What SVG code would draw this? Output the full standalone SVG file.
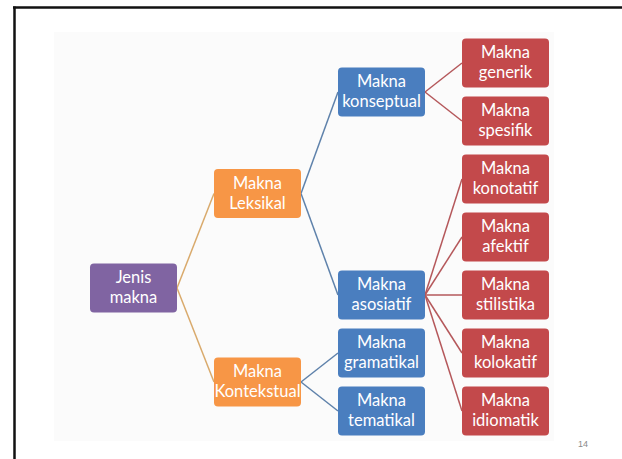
<svg xmlns="http://www.w3.org/2000/svg" width="622" height="459" viewBox="0 0 622 459">
  <style>
    .box { stroke: none; }
    .purple { fill: #8064A2; }
    .orange { fill: #F79646; }
    .blue { fill: #4A7EBF; }
    .red { fill: #C3494B; }
    .lbl { font-family: Lato, "Open Sans", "Liberation Sans", sans-serif; font-size: 16.5px; fill: #ffffff; text-anchor: middle; }
    .c-or { stroke: #D9AA6C; stroke-width: 1.5; fill: none; }
    .c-bl { stroke: #5F82AB; stroke-width: 1.5; fill: none; }
    .c-rd { stroke: #B5585B; stroke-width: 1.5; fill: none; }
    .pg { font-family: "Liberation Sans", sans-serif; font-size: 9px; fill: #8a8a8a; text-anchor: middle; }
  </style>
  <rect x="0" y="0" width="622" height="459" fill="#ffffff"/>
  <rect x="54" y="32" width="500" height="409" fill="#fbfbfb"/>
  <g id="frame" stroke="#111111" stroke-width="2.5" fill="none">
    <line x1="13" y1="7.5" x2="622" y2="7.5"/>
    <line x1="14.5" y1="6.5" x2="14.5" y2="459"/>
  </g>
  <g id="connectors">
    <line class="c-or" x1="177" y1="288" x2="214" y2="193.5"/>
    <line class="c-or" x1="177" y1="288" x2="214" y2="382"/>
    <line class="c-bl" x1="301" y1="193.5" x2="338" y2="92"/>
    <line class="c-bl" x1="301" y1="193.5" x2="338" y2="295"/>
    <line class="c-bl" x1="301" y1="382" x2="338" y2="353"/>
    <line class="c-bl" x1="301" y1="382" x2="338" y2="411"/>
    <line class="c-rd" x1="425" y1="92" x2="462" y2="63"/>
    <line class="c-rd" x1="425" y1="92" x2="462" y2="121"/>
    <line class="c-rd" x1="425" y1="295" x2="462" y2="179"/>
    <line class="c-rd" x1="425" y1="295" x2="462" y2="237"/>
    <line class="c-rd" x1="425" y1="295" x2="462" y2="295"/>
    <line class="c-rd" x1="425" y1="295" x2="462" y2="353"/>
    <line class="c-rd" x1="425" y1="295" x2="462" y2="411"/>
  </g>
  <g id="jenis-makna">
    <rect class="box purple" x="90" y="263.5" width="87" height="49" rx="4"/>
    <text class="lbl" x="133.5" y="283">Jenis</text>
    <text class="lbl" x="133.5" y="303">makna</text>
  </g>
  <g id="makna-leksikal">
    <rect class="box orange" x="214" y="169" width="87" height="49" rx="4"/>
    <text class="lbl" x="257.5" y="188.5">Makna</text>
    <text class="lbl" x="257.5" y="208.5">Leksikal</text>
  </g>
  <g id="makna-kontekstual">
    <rect class="box orange" x="214" y="357.5" width="87" height="49" rx="4"/>
    <text class="lbl" x="257.5" y="377">Makna</text>
    <text class="lbl" x="257.5" y="397">Kontekstual</text>
  </g>
  <g id="makna-konseptual">
    <rect class="box blue" x="338" y="67.5" width="87" height="49" rx="4"/>
    <text class="lbl" x="381.5" y="87">Makna</text>
    <text class="lbl" x="381.5" y="107">konseptual</text>
  </g>
  <g id="makna-asosiatif">
    <rect class="box blue" x="338" y="270.5" width="87" height="49" rx="4"/>
    <text class="lbl" x="381.5" y="290">Makna</text>
    <text class="lbl" x="381.5" y="310">asosiatif</text>
  </g>
  <g id="makna-gramatikal">
    <rect class="box blue" x="338" y="328.5" width="87" height="49" rx="4"/>
    <text class="lbl" x="381.5" y="348">Makna</text>
    <text class="lbl" x="381.5" y="368">gramatikal</text>
  </g>
  <g id="makna-tematikal">
    <rect class="box blue" x="338" y="386.5" width="87" height="49" rx="4"/>
    <text class="lbl" x="381.5" y="406">Makna</text>
    <text class="lbl" x="381.5" y="426">tematikal</text>
  </g>
  <g id="makna-generik">
    <rect class="box red" x="462" y="38.5" width="87" height="49" rx="4"/>
    <text class="lbl" x="505.5" y="58">Makna</text>
    <text class="lbl" x="505.5" y="78">generik</text>
  </g>
  <g id="makna-spesifik">
    <rect class="box red" x="462" y="96.5" width="87" height="49" rx="4"/>
    <text class="lbl" x="505.5" y="116">Makna</text>
    <text class="lbl" x="505.5" y="136">spesifik</text>
  </g>
  <g id="makna-konotatif">
    <rect class="box red" x="462" y="154.5" width="87" height="49" rx="4"/>
    <text class="lbl" x="505.5" y="174">Makna</text>
    <text class="lbl" x="505.5" y="194">konotatif</text>
  </g>
  <g id="makna-afektif">
    <rect class="box red" x="462" y="212.5" width="87" height="49" rx="4"/>
    <text class="lbl" x="505.5" y="232">Makna</text>
    <text class="lbl" x="505.5" y="252">afektif</text>
  </g>
  <g id="makna-stilistika">
    <rect class="box red" x="462" y="270.5" width="87" height="49" rx="4"/>
    <text class="lbl" x="505.5" y="290">Makna</text>
    <text class="lbl" x="505.5" y="310">stilistika</text>
  </g>
  <g id="makna-kolokatif">
    <rect class="box red" x="462" y="328.5" width="87" height="49" rx="4"/>
    <text class="lbl" x="505.5" y="348">Makna</text>
    <text class="lbl" x="505.5" y="368">kolokatif</text>
  </g>
  <g id="makna-idiomatik">
    <rect class="box red" x="462" y="386.5" width="87" height="49" rx="4"/>
    <text class="lbl" x="505.5" y="406">Makna</text>
    <text class="lbl" x="505.5" y="426">idiomatik</text>
  </g>
  <text class="pg" x="583" y="447">14</text>
</svg>
